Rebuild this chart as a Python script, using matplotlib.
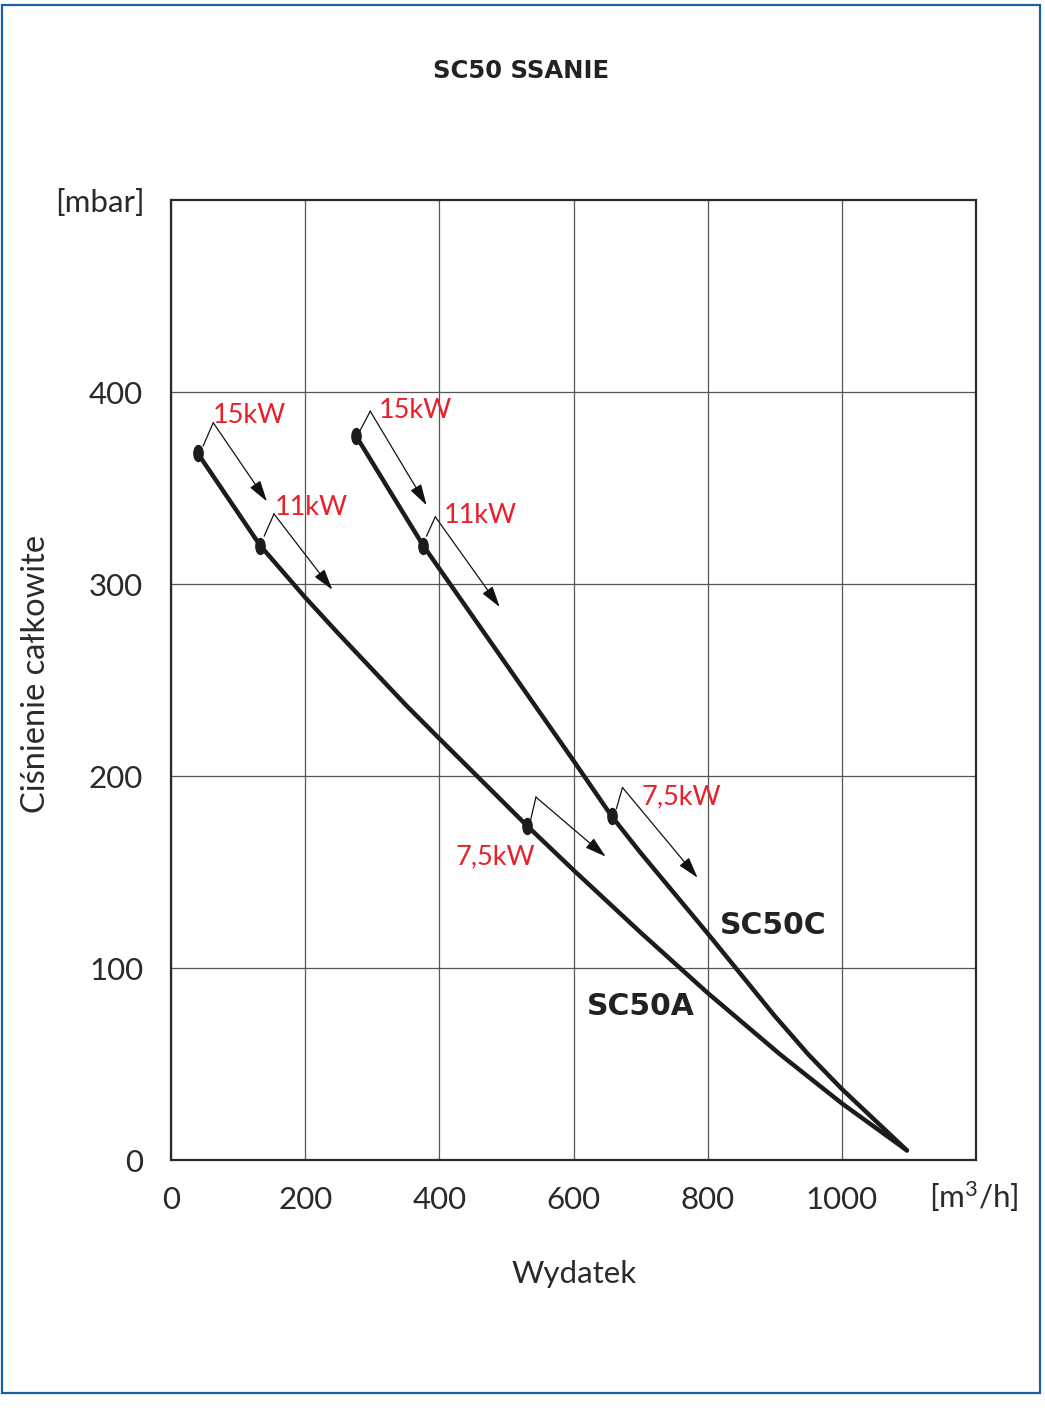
import matplotlib
matplotlib.use("Agg")
import matplotlib.pyplot as plt
from matplotlib import font_manager as fm
from matplotlib.path import Path
from matplotlib.transforms import Affine2D
from matplotlib.patches import Rectangle

# ---------------- data ----------------
title = "SC50 SSANIE"
x_label = "Wydatek"
y_label = "Ciśnienie całkowite"
x_unit = r"[m$^{3}$/h]"
y_unit = "[mbar]"
x_ticks = [0, 200, 400, 600, 800, 1000]
y_ticks = [0, 100, 200, 300, 400]

sc50a_x = [40, 133, 200, 250, 300, 350, 400, 531, 600, 700, 800, 908, 1000, 1097]
sc50a_y = [368, 320, 293, 274, 255.5, 237, 219.5, 174, 151, 118.5, 87, 55, 29.5, 5]
sc50c_x = [276, 376, 420, 500, 600, 657, 700, 750, 800, 850, 900, 950, 1000, 1050, 1097]
sc50c_y = [377, 320, 298, 258, 208, 179, 160, 139, 118, 96.5, 75, 55, 37, 20.5, 5]

sc50a_pts_x = [40, 133, 531]
sc50a_pts_y = [368, 320, 174]
sc50c_pts_x = [276, 376, 657]
sc50c_pts_y = [377, 320, 179]

power_labels = ["15kW", "11kW", "7,5kW", "15kW", "11kW", "7,5kW"]
# bracket: start (near point) -> corner -> arrow end
br_start_x = [48, 139, 536, 282, 381, 664]
br_start_y = [372, 325, 177, 380, 325, 183]
br_corner_x = [63, 153.5, 544, 297, 394, 673]
br_corner_y = [384, 336.5, 189, 390, 335, 194]
br_end_x = [143, 240.5, 648, 381, 490, 785]
br_end_y = [343, 297, 158, 341, 288, 147]
lab_x = [62, 154, 424, 310, 406, 702]
lab_y = [384, 336, 154, 386.5, 332, 185]

series_names = ["SC50A", "SC50C"]
series_lab_x = [620, 818]
series_lab_y = [75.5, 117.7]

# ---------------- fonts ----------------
names = {f.name for f in fm.fontManager.ttflist}
light = "Lato" if "Lato" in names else "DejaVu Sans"
bold = "DejaVu Sans"
plt.rcParams["mathtext.fontset"] = "custom"
plt.rcParams["mathtext.rm"] = light
plt.rcParams["mathtext.it"] = light
plt.rcParams["mathtext.default"] = "regular"
txt_col = "#2a2a2a"
fs = 22.5

W, H = 1045, 1415
fig = plt.figure(figsize=(W / 100, H / 100), dpi=100)
fig.patch.set_facecolor("white")

ax = fig.add_axes([171 / W, 1 - 1160 / H, (976 - 171) / W, (1160 - 200) / H])
ax.set_xlim(0, 1200)
ax.set_ylim(0, 500)
ax.set_xticks(x_ticks)
ax.set_yticks(y_ticks)
ax.set_xticks([1200], minor=True)
ax.grid(True, color="#555555", lw=0.9)
ax.grid(True, which="minor", color="#555555", lw=0.9)
for s in ax.spines.values():
    s.set_color("#2a2a2a")
    s.set_linewidth(1.6)
ax.tick_params(axis="both", length=0, labelsize=fs, colors=txt_col)
ax.tick_params(axis="x", pad=19)
ax.tick_params(axis="y", pad=20)
for lab in ax.get_xticklabels() + ax.get_yticklabels():
    lab.set_family(light)
    lab.set_weight("normal")
ax.tick_params(axis="x", which="minor", length=0)

curve_col = "#1c1c1c"
ax.plot(sc50a_x, sc50a_y, color=curve_col, lw=3.2, solid_capstyle="round", solid_joinstyle="round", zorder=5)
ax.plot(sc50c_x, sc50c_y, color=curve_col, lw=3.2, solid_capstyle="round", solid_joinstyle="round", zorder=5)

ell = Path.unit_circle().transformed(Affine2D().scale(0.58, 1.0))
ax.plot(sc50a_pts_x, sc50a_pts_y, ls="none", marker=ell, ms=11.5, color=curve_col, zorder=6)
ax.plot(sc50c_pts_x, sc50c_pts_y, ls="none", marker=ell, ms=11.5, color=curve_col, zorder=6)

for i in range(len(power_labels)):
    ax.plot([br_start_x[i], br_corner_x[i]], [br_start_y[i], br_corner_y[i]],
            color="#111111", lw=0.9, zorder=4)
    ax.annotate("", xy=(br_end_x[i], br_end_y[i]), xytext=(br_corner_x[i], br_corner_y[i]),
                arrowprops=dict(arrowstyle="-|>,head_length=1.3,head_width=0.38", lw=0.9,
                                color="#111111", shrinkA=0, shrinkB=0), zorder=4)
    ax.text(lab_x[i], lab_y[i], power_labels[i], color="#e8202a", fontsize=19.5,
            family=light, weight="normal", ha="left", va="baseline", zorder=7)

for i in range(len(series_names)):
    ax.text(series_lab_x[i], series_lab_y[i], series_names[i], fontsize=21.5,
            family=bold, weight="bold", color="#222222", ha="left", va="baseline", zorder=7)

fig.text(521 / W, 1 - 78 / H, title, fontsize=17.5, family=bold, weight="bold",
         color="#222222", ha="center", va="baseline")
fig.text(145 / W, 1 - 212 / H, y_unit, fontsize=fs, family=light, weight="normal",
         color=txt_col, ha="right", va="baseline")
fig.text(929 / W, 1 - 1208 / H, x_unit, fontsize=fs, family=light, weight="normal",
         color=txt_col, ha="left", va="baseline")
fig.text(574 / W, 1 - 1283 / H, x_label, fontsize=fs, family=light, weight="normal",
         color=txt_col, ha="center", va="baseline")
fig.text(36 / W, 1 - 674 / H, y_label, fontsize=23.5, family=light, weight="normal",
         color=txt_col, ha="center", va="center", rotation=90)

fig.patches.append(Rectangle((2 / W, 1 - 1393 / H), 1038 / W, 1388 / H,
                             transform=fig.transFigure, fill=False,
                             edgecolor="#1761a8", lw=1.6))

fig.savefig("out.png", dpi=100, facecolor="white")
